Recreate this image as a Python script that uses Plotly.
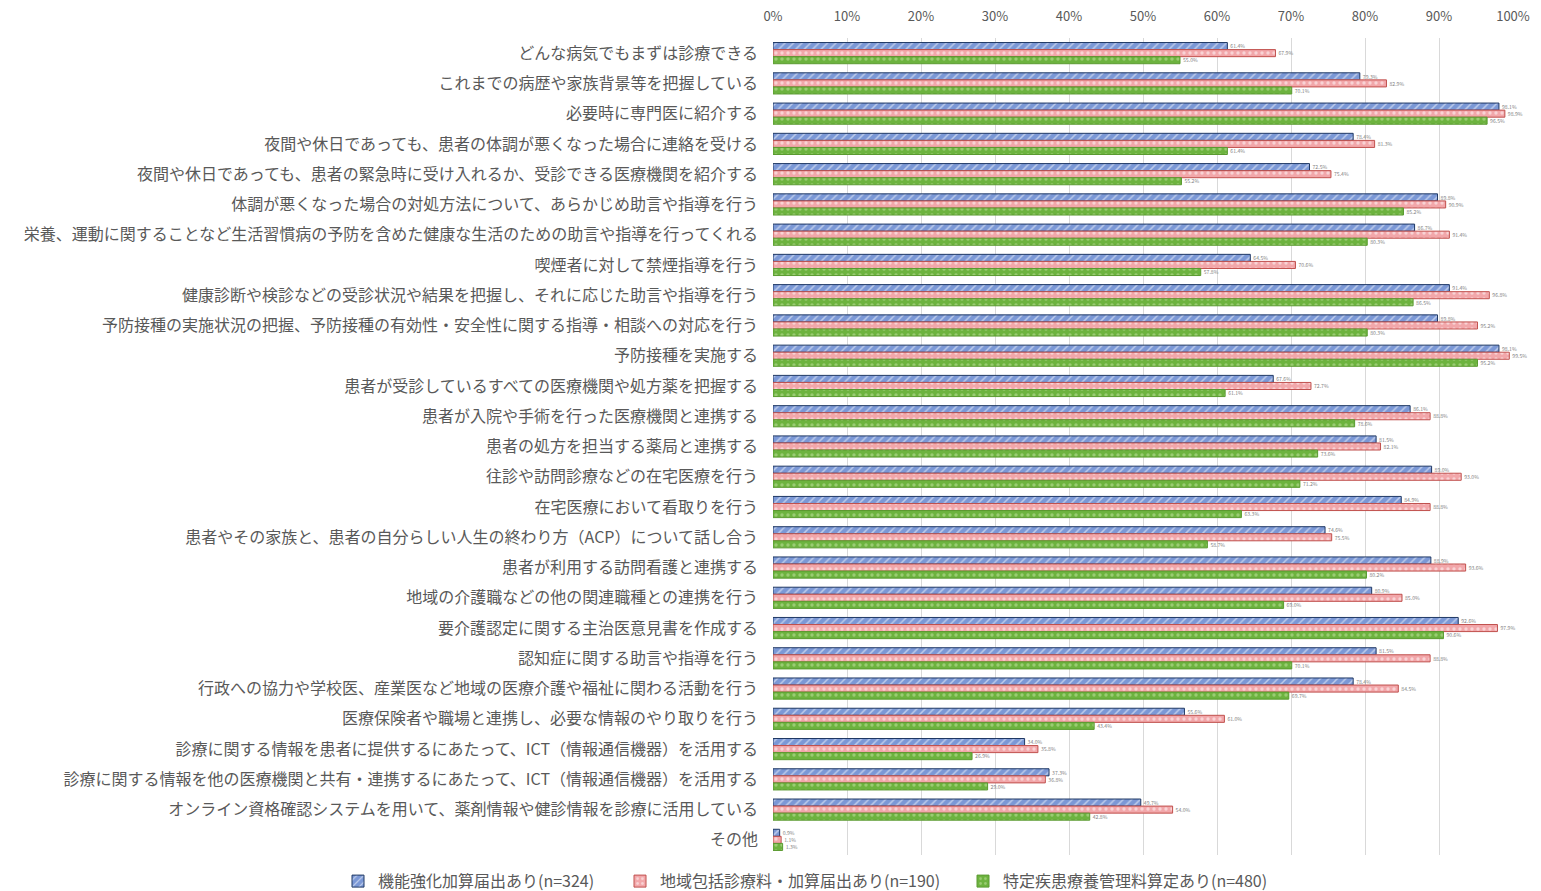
import plotly.graph_objects as go

# Items surveyed (top to bottom)
categories = [
    "どんな病気でもまずは診療できる",
    "これまでの病歴や家族背景等を把握している",
    "必要時に専門医に紹介する",
    "夜間や休日であっても、患者の体調が悪くなった場合に連絡を受ける",
    "夜間や休日であっても、患者の緊急時に受け入れるか、受診できる医療機関を紹介する",
    "体調が悪くなった場合の対処方法について、あらかじめ助言や指導を行う",
    "栄養、運動に関することなど生活習慣病の予防を含めた健康な生活のための助言や指導を行ってくれる",
    "喫煙者に対して禁煙指導を行う",
    "健康診断や検診などの受診状況や結果を把握し、それに応じた助言や指導を行う",
    "予防接種の実施状況の把握、予防接種の有効性・安全性に関する指導・相談への対応を行う",
    "予防接種を実施する",
    "患者が受診しているすべての医療機関や処方薬を把握する",
    "患者が入院や手術を行った医療機関と連携する",
    "患者の処方を担当する薬局と連携する",
    "往診や訪問診療などの在宅医療を行う",
    "在宅医療において看取りを行う",
    "患者やその家族と、患者の自分らしい人生の終わり方（ACP）について話し合う",
    "患者が利用する訪問看護と連携する",
    "地域の介護職などの他の関連職種との連携を行う",
    "要介護認定に関する主治医意見書を作成する",
    "認知症に関する助言や指導を行う",
    "行政への協力や学校医、産業医など地域の医療介護や福祉に関わる活動を行う",
    "医療保険者や職場と連携し、必要な情報のやり取りを行う",
    "診療に関する情報を患者に提供するにあたって、ICT（情報通信機器）を活用する",
    "診療に関する情報を他の医療機関と共有・連携するにあたって、ICT（情報通信機器）を活用する",
    "オンライン資格確認システムを用いて、薬剤情報や健診情報を診療に活用している",
    "その他",
]

series_names = [
    "機能強化加算届出あり(n=324)",
    "地域包括診療料・加算届出あり(n=190)",
    "特定疾患療養管理料算定あり(n=480)",
]

kinou = [61.4, 79.3, 98.1, 78.4, 72.5, 89.8, 86.7, 64.5, 91.4, 89.8, 98.1, 67.6, 86.1,
         81.5, 89.0, 84.9, 74.6, 88.9, 80.9, 92.6, 81.5, 78.4, 55.6, 34.0, 37.3, 49.7, 0.9]
chiiki = [67.9, 82.9, 98.9, 81.3, 75.4, 90.9, 91.4, 70.6, 96.8, 95.2, 99.5, 72.7, 88.8,
          82.1, 93.0, 88.8, 75.5, 93.6, 85.0, 97.9, 88.8, 84.5, 61.0, 35.8, 36.8, 54.0, 1.1]
tokutei = [55.0, 70.1, 96.5, 61.4, 55.2, 85.2, 80.3, 57.8, 86.5, 80.3, 95.2, 61.1, 78.6,
           73.6, 71.2, 63.3, 58.7, 80.2, 69.0, 90.6, 70.1, 69.7, 43.4, 26.9, 29.0, 42.8, 1.3]

tick_vals = [0, 10, 20, 30, 40, 50, 60, 70, 80, 90, 100]
tick_text = [f"{v}%" for v in tick_vals]

styles = [
    dict(color="#7B98D6", line="#1F3864", shape="/", fg="#FFFFFF", legend="legend"),
    dict(color="#F2A7AA", line="#C0504D", shape=".", fg="#FFFFFF", legend="legend2"),
    dict(color="#6DB33F", line="#5A9A30", shape=".", fg="#C8E6A8", legend="legend3"),
]

fig = go.Figure()
for name, vals, st in zip(series_names, [kinou, chiiki, tokutei], styles):
    fig.add_trace(go.Bar(
        y=categories,
        x=vals,
        name=name,
        orientation="h",
        legend=st["legend"],
        marker=dict(
            color=st["color"],
            line=dict(color=st["line"], width=1),
            pattern=dict(shape=st["shape"], fgcolor=st["fg"], size=6,
                         solidity=0.25, fillmode="overlay"),
        ),
        text=[f"{v:.1f}%" for v in vals],
        textposition="outside",
        textfont=dict(size=8, color="#7F7F7F"),
        cliponaxis=False,
    ))

legend_common = dict(
    orientation="h",
    xref="container",
    yref="container",
    y=0.011,
    xanchor="left",
    yanchor="middle",
    font=dict(size=16, color="#595959"),
    itemwidth=30,
    bgcolor="rgba(0,0,0,0)",
)

fig.update_layout(
    width=1541,
    height=891,
    barmode="group",
    bargap=0.3,
    bargroupgap=0,
    plot_bgcolor="white",
    paper_bgcolor="white",
    font=dict(family="Noto Sans CJK JP, sans-serif", color="#595959", size=14),
    margin=dict(l=773, r=28, t=38, b=36, autoexpand=False),
    xaxis=dict(
        side="top",
        range=[0, 100],
        tickmode="array",
        tickvals=tick_vals,
        ticktext=tick_text,
        showgrid=True,
        gridcolor="#D9D9D9",
        gridwidth=1,
        zeroline=False,
        showline=False,
        ticklabelstandoff=13,
        tickfont=dict(size=13, color="#595959"),
    ),
    yaxis=dict(
        autorange="reversed",
        showgrid=False,
        ticks="",
        ticklabelstandoff=14,
        tickfont=dict(size=16, color="#595959"),
    ),
    legend=dict(legend_common, x=338 / 1541),
    legend2=dict(legend_common, x=620 / 1541),
    legend3=dict(legend_common, x=963 / 1541),
    showlegend=True,
)

fig.write_html("out.html")
